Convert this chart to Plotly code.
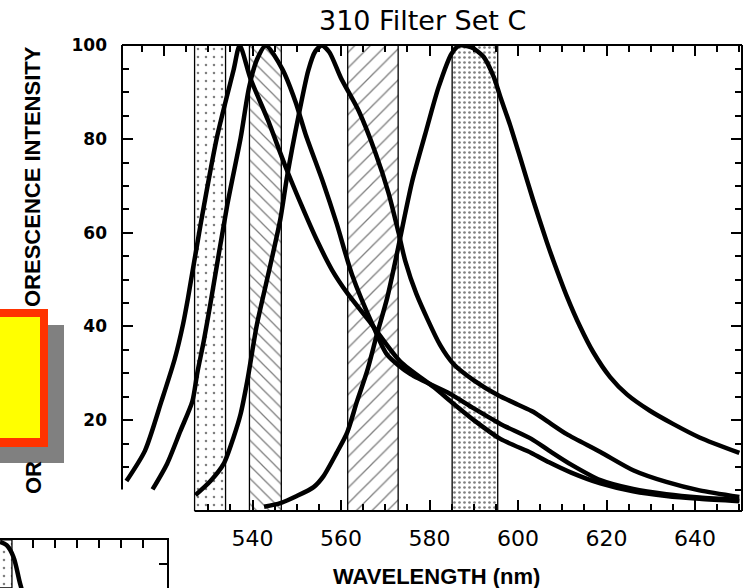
import plotly.graph_objects as go

# ---------------- data ----------------
# filter pass bands (nm)
band_lo = [526.9, 539.3, 561.5, 585.1]
band_hi = [533.9, 546.5, 572.9, 595.4]

# emission curves (wavelength nm, relative fluorescence)
c1_x = [511.5, 515.7, 519.4, 522.4, 524.3, 525.4, 528.3, 532.0, 535.7, 537.1, 539.5, 543.5,
        547.5, 551.0, 554.5, 558.0, 561.5, 566.5, 573.4, 581.0, 585.4, 590.0, 596.0, 603.0,
        607.0, 612.0, 618.6, 626.0, 633.5, 641.0, 650.0]
c1_y = [7.0, 13.5, 24.0, 33.0, 40.5, 46.0, 62.0, 80.6, 94.7, 100.0, 93.0, 84.0,
        74.0, 66.0, 58.5, 52.0, 47.0, 41.0, 32.5, 27.0, 23.5, 20.0, 16.0, 13.0,
        11.0, 8.8, 6.5, 4.8, 3.8, 3.2, 2.7]

c2_x = [517.4, 520.7, 523.7, 526.4, 527.5, 529.0, 530.5, 534.3, 537.3, 539.2, 541.0, 543.0,
        546.7, 549.7, 552.0, 556.0, 559.0, 562.5, 567.3, 570.4, 575.7, 584.7, 590.0, 596.0,
        603.0, 607.0, 612.0, 618.6, 626.0, 633.5, 641.0, 650.0]
c2_y = [5.2, 10.7, 17.7, 24.0, 30.0, 37.0, 45.0, 66.0, 80.2, 91.0, 97.0, 100.0,
        95.0, 88.0, 81.0, 70.6, 62.0, 51.0, 40.0, 34.0, 29.8, 25.6, 22.5, 19.2,
        16.0, 13.5, 10.5, 7.2, 5.3, 4.2, 3.5, 3.0]

c3_x = [527.1, 530.5, 533.5, 535.7, 537.3, 538.8, 541.0, 544.0, 546.3, 547.8, 550.4, 552.6,
        554.2, 555.7, 557.4, 560.0, 564.0, 567.8, 570.7, 573.0, 574.5, 577.0, 582.4, 585.4,
        590.0, 595.5, 600.0, 603.4, 607.0, 611.0, 618.6, 626.0, 633.5, 641.0, 650.0]
c3_y = [4.0, 7.0, 10.7, 16.3, 21.3, 28.3, 40.5, 53.0, 63.0, 72.0, 85.0, 94.7,
        98.8, 100.0, 98.5, 93.0, 86.0, 77.0, 68.6, 60.0, 54.0, 47.0, 36.0, 32.0,
        28.5, 25.3, 23.3, 21.8, 19.5, 17.0, 13.2, 9.3, 6.8, 5.0, 3.6]

c4_x = [542.6, 546.3, 550.0, 553.8, 556.0, 559.0, 561.4, 563.6, 565.9, 568.1, 570.4, 572.5,
        576.0, 579.0, 582.0, 585.0, 586.8, 589.5, 592.2, 594.5, 596.0, 598.2, 600.5, 603.4,
        606.5, 608.0, 611.0, 614.0, 617.0, 620.8, 624.6, 629.8, 635.0, 641.0, 650.0]
c4_y = [1.5, 2.3, 3.8, 5.7, 8.0, 13.0, 17.4, 24.0, 30.5, 38.3, 46.0, 55.0,
        70.7, 81.0, 91.0, 98.3, 100.0, 99.6, 97.6, 93.3, 89.0, 83.0, 76.0, 67.0,
        58.0, 54.0, 46.5, 40.0, 34.5, 29.2, 25.5, 22.0, 19.2, 16.3, 13.0]

x_major = [540, 560, 580, 600, 620, 640]
x_labels = ["540", "560", "580", "600", "620", "640"]
y_major = [20, 40, 60, 80, 100]
y_labels = ["20", "40", "60", "80", "100"]

# fragment of a second chart (bottom-left)
frag_band_lo = [612.0]
frag_band_hi = [615.3]
frag_x = [612.6, 614.1, 615.6, 617.1, 618.0]
frag_y = [99.6, 98.9, 96.5, 90.9, 88.0]

# ---------------- layout constants ----------------
W, H = 747, 588
XMIN, XMAX = 510.5, 650.6
YMIN, YMAX = 0.6, 100.1
LEFT_CUT = 5.2
PL, PR, PT, PB = 122, 742, 45, 511  # plot box in pixels


def fx(p):
    return p / W


def fy(p):
    return 1 - p / H


def nm_to_px(v):
    return PL + (v - XMIN) / (XMAX - XMIN) * (PR - PL)


def val_to_px(v):
    return PB - (v - YMIN) / (YMAX - YMIN) * (PB - PT)


fig = go.Figure()

band_styles = [
    dict(shape=".", size=8, solidity=0.08),
    dict(shape="\\", size=9, solidity=0.14),
    dict(shape="/", size=11, solidity=0.12),
    dict(shape=".", size=5, solidity=0.22),
]
for lo, hi, st in zip(band_lo, band_hi, band_styles):
    fig.add_trace(go.Bar(
        x=[(lo + hi) / 2], width=[hi - lo], y=[YMAX - YMIN], base=YMIN,
        marker=dict(color="white", line=dict(color="black", width=1.3),
                    pattern=dict(fgcolor="black", bgcolor="white", fillmode="overlay", **st)),
        showlegend=False, hoverinfo="skip", xaxis="x", yaxis="y"))

for cx, cy in [(c1_x, c1_y), (c2_x, c2_y), (c3_x, c3_y), (c4_x, c4_y)]:
    fig.add_trace(go.Scatter(x=cx, y=cy, mode="lines",
                             line=dict(color="black", width=4.5, shape="spline", smoothing=0.7),
                             showlegend=False, hoverinfo="skip", xaxis="x", yaxis="y"))

# dummy trace so the mirrored (top/right) tick axes render
fig.add_trace(go.Scatter(x=[], y=[], xaxis="x2", yaxis="y2", showlegend=False, hoverinfo="skip"))

# fragment chart
for lo, hi in zip(frag_band_lo, frag_band_hi):
    fig.add_trace(go.Bar(
        x=[(lo + hi) / 2], width=[hi - lo], y=[10.2], base=89.83,
        marker=dict(color="white", line=dict(color="black", width=1.3),
                    pattern=dict(shape=".", size=8, solidity=0.08, fgcolor="black",
                                 bgcolor="white", fillmode="overlay")),
        showlegend=False, hoverinfo="skip", xaxis="x3", yaxis="y3"))
fig.add_trace(go.Scatter(x=frag_x, y=frag_y, mode="lines",
                         line=dict(color="black", width=4.5, shape="spline"),
                         showlegend=False, hoverinfo="skip", xaxis="x3", yaxis="y3"))

x_minor_bottom = [v for v in range(530, 651, 5) if v not in x_major]
x_minor_top = [v for v in range(515, 651, 5) if v % 20 != 0]
y_minor_left = [v for v in range(10, 100, 5) if v not in y_major]
y_minor_right = [v for v in range(5, 100, 5) if v not in y_major]

tick_common = dict(showgrid=False, zeroline=False, showline=False, ticks="inside",
                   ticklen=11, tickwidth=1.5, tickcolor="black", automargin=False)

fig.update_layout(
    template="none",
    width=W, height=H, margin=dict(l=0, r=0, t=0, b=0, pad=0, autoexpand=False),
    paper_bgcolor="white", plot_bgcolor="rgba(0,0,0,0)",
    barmode="overlay", showlegend=False,
    xaxis=dict(domain=[fx(PL), fx(PR)], range=[XMIN, XMAX], anchor="y",
               tickmode="array", tickvals=x_major, ticktext=x_labels,
               ticklabelstandoff=12,
               tickfont=dict(family="DejaVu Sans", size=22, color="black"),
               minor=dict(tickmode="array", tickvals=x_minor_bottom, ticks="inside",
                          ticklen=7, tickwidth=1.5, tickcolor="black"),
               **tick_common),
    xaxis2=dict(domain=[fx(PL), fx(PR)], range=[XMIN, XMAX], anchor="y", overlaying="x",
                side="top", tickmode="array", tickvals=[520, 540, 560, 580, 600, 620, 640],
                showticklabels=False,
                minor=dict(tickmode="array", tickvals=x_minor_top, ticks="inside",
                           ticklen=7, tickwidth=1.5, tickcolor="black"),
                **tick_common),
    yaxis=dict(domain=[fy(PB), fy(PT)], range=[YMIN, YMAX], anchor="x",
               tickmode="array", tickvals=y_major, ticktext=y_labels,
               ticklabelstandoff=14,
               tickfont=dict(family="DejaVu Sans", size=17, color="black", weight="bold"),
               minor=dict(tickmode="array", tickvals=y_minor_left, ticks="inside",
                          ticklen=7, tickwidth=1.5, tickcolor="black"),
               **tick_common),
    yaxis2=dict(domain=[fy(PB), fy(PT)], range=[YMIN, YMAX], anchor="x", overlaying="y",
                side="right", tickmode="array", tickvals=y_major, showticklabels=False,
                minor=dict(tickmode="array", tickvals=y_minor_right, ticks="inside",
                           ticklen=7, tickwidth=1.5, tickcolor="black"),
                **tick_common),
    xaxis3=dict(domain=[0, fx(167)], range=[612.6, 650.34], anchor="y3", side="top",
                showgrid=False, zeroline=False, showline=True, linewidth=2, linecolor="black",
                ticks="inside", ticklen=8, tickwidth=1.5, tickcolor="black", automargin=False,
                tickmode="array", tickvals=[620, 625, 630, 635, 640, 645], showticklabels=False),
    yaxis3=dict(domain=[0, fy(540)], range=[89.83, 100], anchor="x3", side="right",
                showgrid=False, zeroline=False, showline=True, linewidth=2, linecolor="black",
                ticks="inside", ticklen=8, tickwidth=1.5, tickcolor="black", automargin=False,
                tickmode="array", tickvals=[95], showticklabels=False),
)

line_style = dict(color="black", width=2)
shapes = [
    # frame of main chart
    dict(type="line", xref="paper", yref="paper", x0=fx(PL), x1=fx(PR), y0=fy(PT), y1=fy(PT), line=line_style),
    dict(type="line", xref="paper", yref="paper", x0=fx(PR), x1=fx(PR), y0=fy(PT), y1=fy(PB), line=line_style),
    dict(type="line", xref="paper", yref="paper", x0=fx(PL), x1=fx(PL), y0=fy(PT),
         y1=fy(val_to_px(LEFT_CUT)), line=line_style),
    dict(type="line", xref="paper", yref="paper", x0=fx(nm_to_px(band_lo[0])), x1=fx(PR),
         y0=fy(PB), y1=fy(PB), line=line_style),
    # overlapping callout box (shadow, red border, yellow fill)
    dict(type="rect", xref="paper", yref="paper", x0=fx(-10), x1=fx(64), y0=fy(463), y1=fy(325),
         fillcolor="#808080", line=dict(width=0), layer="above"),
    dict(type="rect", xref="paper", yref="paper", x0=fx(-10), x1=fx(48), y0=fy(447), y1=fy(309),
         fillcolor="#ff3300", line=dict(width=0), layer="above"),
    dict(type="rect", xref="paper", yref="paper", x0=fx(-10), x1=fx(40), y0=fy(438), y1=fy(317),
         fillcolor="#ffff00", line=dict(width=0), layer="above"),
]
fig.update_layout(shapes=shapes)

annotations = [
    dict(text="310 Filter Set C", x=fx(422), y=fy(21), xref="paper", yref="paper",
         xanchor="center", yanchor="middle", showarrow=False,
         font=dict(family="DejaVu Sans", size=27, color="black")),
    dict(text="WAVELENGTH (nm)", x=fx(436), y=fy(576), xref="paper", yref="paper",
         xanchor="center", yanchor="middle", showarrow=False,
         font=dict(family="Liberation Sans", size=22, color="black", weight="bold")),
    dict(text="ORESCENCE INTENSITY", x=fx(33), y=fy(177), xref="paper", yref="paper",
         xanchor="center", yanchor="middle", showarrow=False, textangle=-90,
         font=dict(family="Liberation Sans", size=22, color="black", weight="bold")),
    dict(text="OR", x=fx(33), y=fy(478), xref="paper", yref="paper",
         xanchor="center", yanchor="middle", showarrow=False, textangle=-90,
         font=dict(family="Liberation Sans", size=22, color="black", weight="bold")),
]
fig.update_layout(annotations=annotations)

fig.write_html("out.html", config={"displayModeBar": False},
               post_script="document.body.style.margin='0px';document.body.style.overflow='hidden';")
